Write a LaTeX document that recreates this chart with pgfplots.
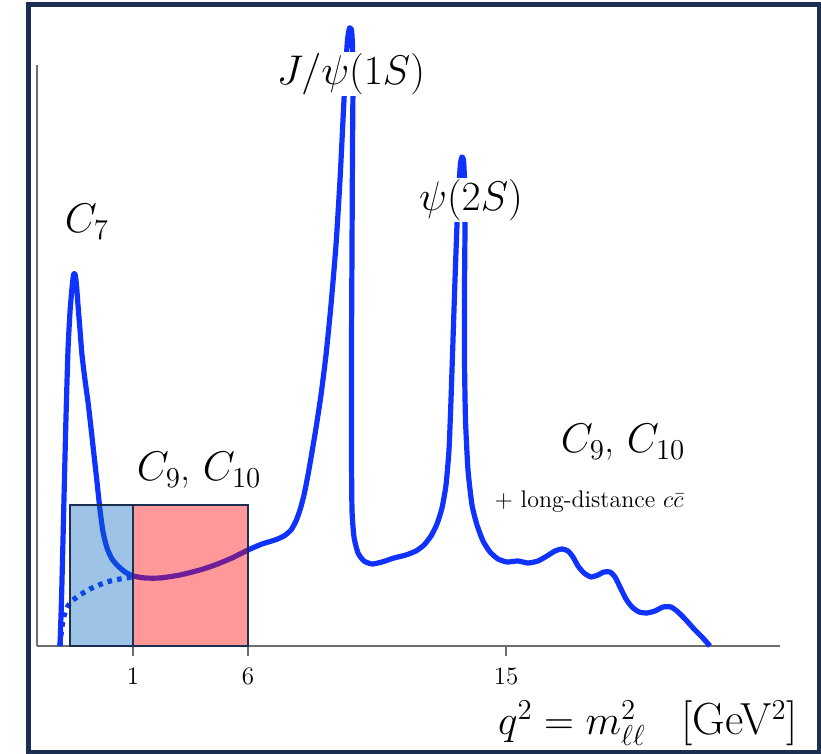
\documentclass[border=0pt]{standalone}
\usepackage{pgfplots}
\pgfplotsset{compat=1.18}
\definecolor{curveblue}{RGB}{15,50,255}
\definecolor{navy}{RGB}{28,46,82}
\definecolor{axgray}{RGB}{110,110,110}
\definecolor{boxblue}{RGB}{10,105,192}
\begin{document}
\begin{tikzpicture}
\begin{axis}[
 scale only axis, width=371.5pt, height=290.5pt,
 xmin=37, xmax=780, ymin=0, ymax=581,
 axis lines=left, axis line style={-, axgray, line width=1.4pt},
 clip=false,
 xtick={133,248,506}, xticklabels={1,6,15},
 ytick=\empty,
 tick align=outside, major tick length=5pt,
 tick style={axgray, line width=1.3pt},
 xticklabel style={font=\fontsize{12.5}{13}\selectfont, yshift=-2.5pt},
]
% solid curve
\addplot[curveblue, line width=2.6pt, line join=round, smooth, tension=0.35] coordinates {
(60,0) (61.5,46) (63,106) (64,148) (66,229) (68,296) (70,334) (72,358) (73.5,371) (75,372)
(76.5,361) (78,341) (80,316) (82,291) (85,266) (88,244) (91,218) (94,191) (97,164) (100,136)
(103,114) (107,98) (112,87) (118,80) (125,74) (133,70) (145,68) (160,68) (180,71) (200,76)
(215,81) (232,88) (248,96) (262,102) (275,106) (284,110) (291,116) (296,125) (300,136) (304,151)
(308,171) (312,194) (316,218) (321,251) (326,291) (331,341) (336,401) (340,466) (343,526) (345.5,576)
(347.5,606) (349.5,618) (351.5,616) (352.5,601) (353,566) (352.5,496) (352,396) (351.5,296) (351.5,196) (352,136)
(354,109) (358,93) (364,85) (372,82) (382,84) (394,88) (406,91) (416,95) (424,101) (431,110)
(437,122) (442,138) (446,161) (449,196) (451,246) (453,306) (455,366) (457,421) (459,461) (460.5,483)
(462,489) (463.5,486) (464.5,466) (465,421) (464.5,356) (464.5,286) (465.5,226) (468,176) (472,141) (477,121)
(483,105) (490,94) (498,87) (507,84) (518,85) (528,83) (538,85) (547,90) (555,95) (562,97)
(568,95) (573,89) (578,80) (584,73) (591,69) (598,71) (604,74) (610,74) (615,69) (620,59)
(626,47) (632,39) (639,34) (647,33) (655,35) (663,39) (671,39) (678,34) (686,26) (694,17)
(702,9) (710,0)
};
% dotted curve
\addplot[curveblue, line width=2.6pt, dash pattern=on 2.3pt off 2.6pt, smooth, tension=0.5] coordinates {
(60,0) (61,11) (63,26) (66,36) (70,43) (77,49) (90,57) (107,64) (120,67) (133,69)
};
% boxes
\fill[boxblue, fill opacity=0.4] (axis cs:70,0) rectangle (axis cs:133,141);
\fill[red, fill opacity=0.4] (axis cs:133,0) rectangle (axis cs:248,141);
\draw[navy, line width=1pt] (axis cs:70,0) rectangle (axis cs:133,141);
\draw[navy, line width=1pt] (axis cs:133,0) rectangle (axis cs:248,141);
% labels
\node[font=\fontsize{20}{24}\selectfont, anchor=base] at (axis cs:87,413) {$C_7$};
\node[fill=white, inner sep=0.5pt, font=\fontsize{20}{24}\selectfont] at (axis cs:351,572) {$J/\psi(1S)$};
\node[fill=white, inner sep=0.5pt, font=\fontsize{20}{24}\selectfont] at (axis cs:471,446) {$\psi(2S)$};
\node[anchor=base, font=\fontsize{20}{24}\selectfont] at (axis cs:199,165) {$C_9$, $C_{10}$};
\node[anchor=base, inner sep=0pt, font=\fontsize{20}{24}\selectfont] at (axis cs:623,193) {$C_9$, $C_{10}$};
\node[anchor=base, inner sep=0pt, font=\fontsize{12}{14}\selectfont] at (axis cs:589,138) {+ long-distance $c\bar{c}$};
\node[anchor=base, font=\fontsize{22.5}{26}\selectfont] at (axis cs:648,-89) {$q^2 = m^2_{\ell\ell}$\hspace{0.8em}[GeV$^2$]};
\coordinate (O) at (axis cs:37,0);
\end{axis}
\draw[navy, line width=2.5pt] ([xshift=-4pt, yshift=320.75pt]O) rectangle ([xshift=391pt, yshift=-53.5pt]O);
\pgfresetboundingbox
\path[use as bounding box] ([xshift=-18.5pt, yshift=323pt]O) rectangle ([xshift=392pt, yshift=-54pt]O);
\end{tikzpicture}
\end{document}
